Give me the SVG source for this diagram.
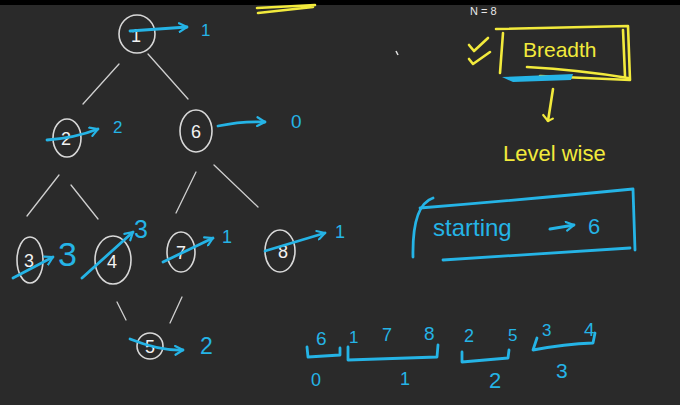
<svg xmlns="http://www.w3.org/2000/svg" width="680" height="405" viewBox="0 0 680 405">
<style>
.bg{fill:#2a2a2a}
.node ellipse{fill:none;stroke:#d8d8d8;stroke-width:1.6}
.node text{font-family:"Liberation Sans",Arial,sans-serif;font-size:18px;fill:#f2f2f2;text-anchor:middle}
.edge{stroke:#cfcfcf;stroke-width:1.3;fill:none;stroke-linecap:round}
.b{stroke:#25b4e6;stroke-width:2.8;fill:none;stroke-linecap:round;stroke-linejoin:round}
.bt{font-family:"Liberation Sans",Arial,sans-serif;fill:#25b4e6}
.y{stroke:#f2ea3c;stroke-width:2.6;fill:none;stroke-linecap:round;stroke-linejoin:round}
.yt{font-family:"Liberation Sans",Arial,sans-serif;fill:#f2ea3c}
</style>
<defs>
<marker id="chev" viewBox="0 0 10 10" refX="8" refY="5" markerWidth="11" markerHeight="11" markerUnits="userSpaceOnUse" orient="auto">
<path d="M1,1 L8,5 L1,9" fill="none" stroke="#25b4e6" stroke-width="2" stroke-linecap="round" stroke-linejoin="round"/>
</marker>
<marker id="ychev" viewBox="0 0 10 10" refX="5" refY="8" markerWidth="12" markerHeight="12" markerUnits="userSpaceOnUse" orient="0">
<path d="M1,3 L5,8 L9,6" fill="none" stroke="#f2ea3c" stroke-width="1.8" stroke-linecap="round" stroke-linejoin="round"/>
</marker>
</defs>
<rect class="bg" x="0" y="0" width="680" height="405"/>
<rect x="0" y="0" width="680" height="5" fill="#000"/>

<g id="connectors">
<line class="edge" x1="119" y1="64" x2="83" y2="104"/>
<line class="edge" x1="148" y1="54" x2="188" y2="99"/>
<line class="edge" x1="59" y1="175" x2="27" y2="216"/>
<line class="edge" x1="71" y1="185" x2="98" y2="219"/>
<line class="edge" x1="196" y1="172" x2="176" y2="213"/>
<line class="edge" x1="214" y1="165" x2="258" y2="207"/>
<line class="edge" x1="117" y1="302" x2="126" y2="320"/>
<line class="edge" x1="182" y1="297" x2="170" y2="323"/>
</g>

<g id="node-1" class="node"><ellipse cx="137" cy="34" rx="18" ry="19"/><text x="136" y="42">1</text></g>
<g id="node-2" class="node"><ellipse cx="67" cy="138" rx="14" ry="19"/><text x="66" y="145">2</text></g>
<g id="node-6" class="node"><ellipse cx="196" cy="131" rx="16" ry="21"/><text x="196" y="138">6</text></g>
<g id="node-3" class="node"><ellipse cx="30" cy="260" rx="13" ry="23"/><text x="29" y="267">3</text></g>
<g id="node-4" class="node"><ellipse cx="113" cy="260" rx="18" ry="24"/><text x="112" y="268">4</text></g>
<g id="node-7" class="node"><ellipse cx="181" cy="252" rx="14" ry="20"/><text x="181" y="259">7</text></g>
<g id="node-8" class="node"><ellipse cx="280" cy="251" rx="15" ry="21"/><text x="283" y="258">8</text></g>
<g id="node-5" class="node"><ellipse cx="150" cy="346" rx="13" ry="13"/><text x="150" y="353">5</text></g>

<g id="visit-marks">
<path class="b" d="M130,31 Q160,29 187,27" marker-end="url(#chev)"/>
<path class="b" d="M47,140 Q75,138 98,129" marker-end="url(#chev)"/>
<path class="b" d="M218,126 Q242,121 265,122" marker-end="url(#chev)"/>
<path class="b" d="M13,278 L53,257" marker-end="url(#chev)"/>
<path class="b" d="M82,278 L133,232" marker-end="url(#chev)"/>
<path class="b" d="M163,262 L213,238" marker-end="url(#chev)"/>
<path class="b" d="M265,251 L325,233" marker-end="url(#chev)"/>
<path class="b" d="M130,339 Q160,351 183,350" marker-end="url(#chev)"/>
<text class="bt" x="201" y="36" font-size="17">1</text>
<text class="bt" x="113" y="133" font-size="17">2</text>
<text class="bt" x="291" y="128" font-size="19">0</text>
<text class="bt" x="58" y="266" font-size="34">3</text>
<text class="bt" x="134" y="238" font-size="25">3</text>
<text class="bt" x="222" y="243" font-size="18">1</text>
<text class="bt" x="335" y="238" font-size="18">1</text>
<text class="bt" x="200" y="354" font-size="23">2</text>
</g>

<g id="breadth">
<path class="y" d="M496,29 L628,26 L630,80 L540,76"/>
<path class="y" d="M503,33 L500,73" />
<path class="y" d="M623,30 L625,76 M527,67 Q580,70 628,78"/>
<path class="y" d="M469,45 L474,51 L488,38 M469,59 L473,64 L490,52"/>
<path d="M502,77 L573,74 L571,80 L513,82 Z" fill="#25b4e6"/>
<text class="yt" x="523" y="57" font-size="21">Breadth</text>
<line class="y" x1="553" y1="89" x2="548" y2="121" stroke-width="1.8" marker-end="url(#ychev)"/>
<text class="yt" x="503" y="161" font-size="22">Level wise</text>
</g>

<g id="starting">
<path class="b" d="M420,208 Q520,200 633,189 L635,250"/>
<path class="b" d="M433,198 Q412,205 413,257"/>
<path class="b" d="M443,260 Q540,254 630,248"/>
<text class="bt" x="433" y="236" font-size="24">starting</text>
<path class="b" d="M550,229 L574,225" stroke-width="2" marker-end="url(#chev)"/>
<text class="bt" x="588" y="234" font-size="22">6</text>
</g>

<g id="queue">
<text class="bt" x="316" y="345" font-size="19">6</text>
<text class="bt" x="349" y="343" font-size="17">1</text>
<text class="bt" x="382" y="341" font-size="18">7</text>
<text class="bt" x="424" y="340" font-size="19">8</text>
<text class="bt" x="464" y="342" font-size="18">2</text>
<text class="bt" x="508" y="341" font-size="17">5</text>
<text class="bt" x="542" y="336" font-size="17">3</text>
<text class="bt" x="584" y="336" font-size="19">4</text>
<path class="b" d="M307,347 L308,357 L340,355 L340,348"/>
<path class="b" d="M348,347 L348,360 L437,357 L438,345"/>
<path class="b" d="M462,352 L462,362 L508,358 L509,350"/>
<path class="b" d="M537,338 L533,350 Q565,344 593,343 L595,333"/>
<text class="bt" x="311" y="386" font-size="18">0</text>
<text class="bt" x="400" y="385" font-size="18">1</text>
<text class="bt" x="489" y="388" font-size="22">2</text>
<text class="bt" x="556" y="378" font-size="21">3</text>
</g>

<g id="misc">
<path class="y" d="M257,8 L315,5 M258,13 L313,7" stroke-width="1.8"/>
<line x1="396" y1="51" x2="398" y2="55" stroke="#e0e0e0" stroke-width="1.5"/>
<text x="470" y="15" font-family="Liberation Sans,Arial,sans-serif" font-size="11" fill="#e8e8e8">N = 8</text>
</g>
</svg>
